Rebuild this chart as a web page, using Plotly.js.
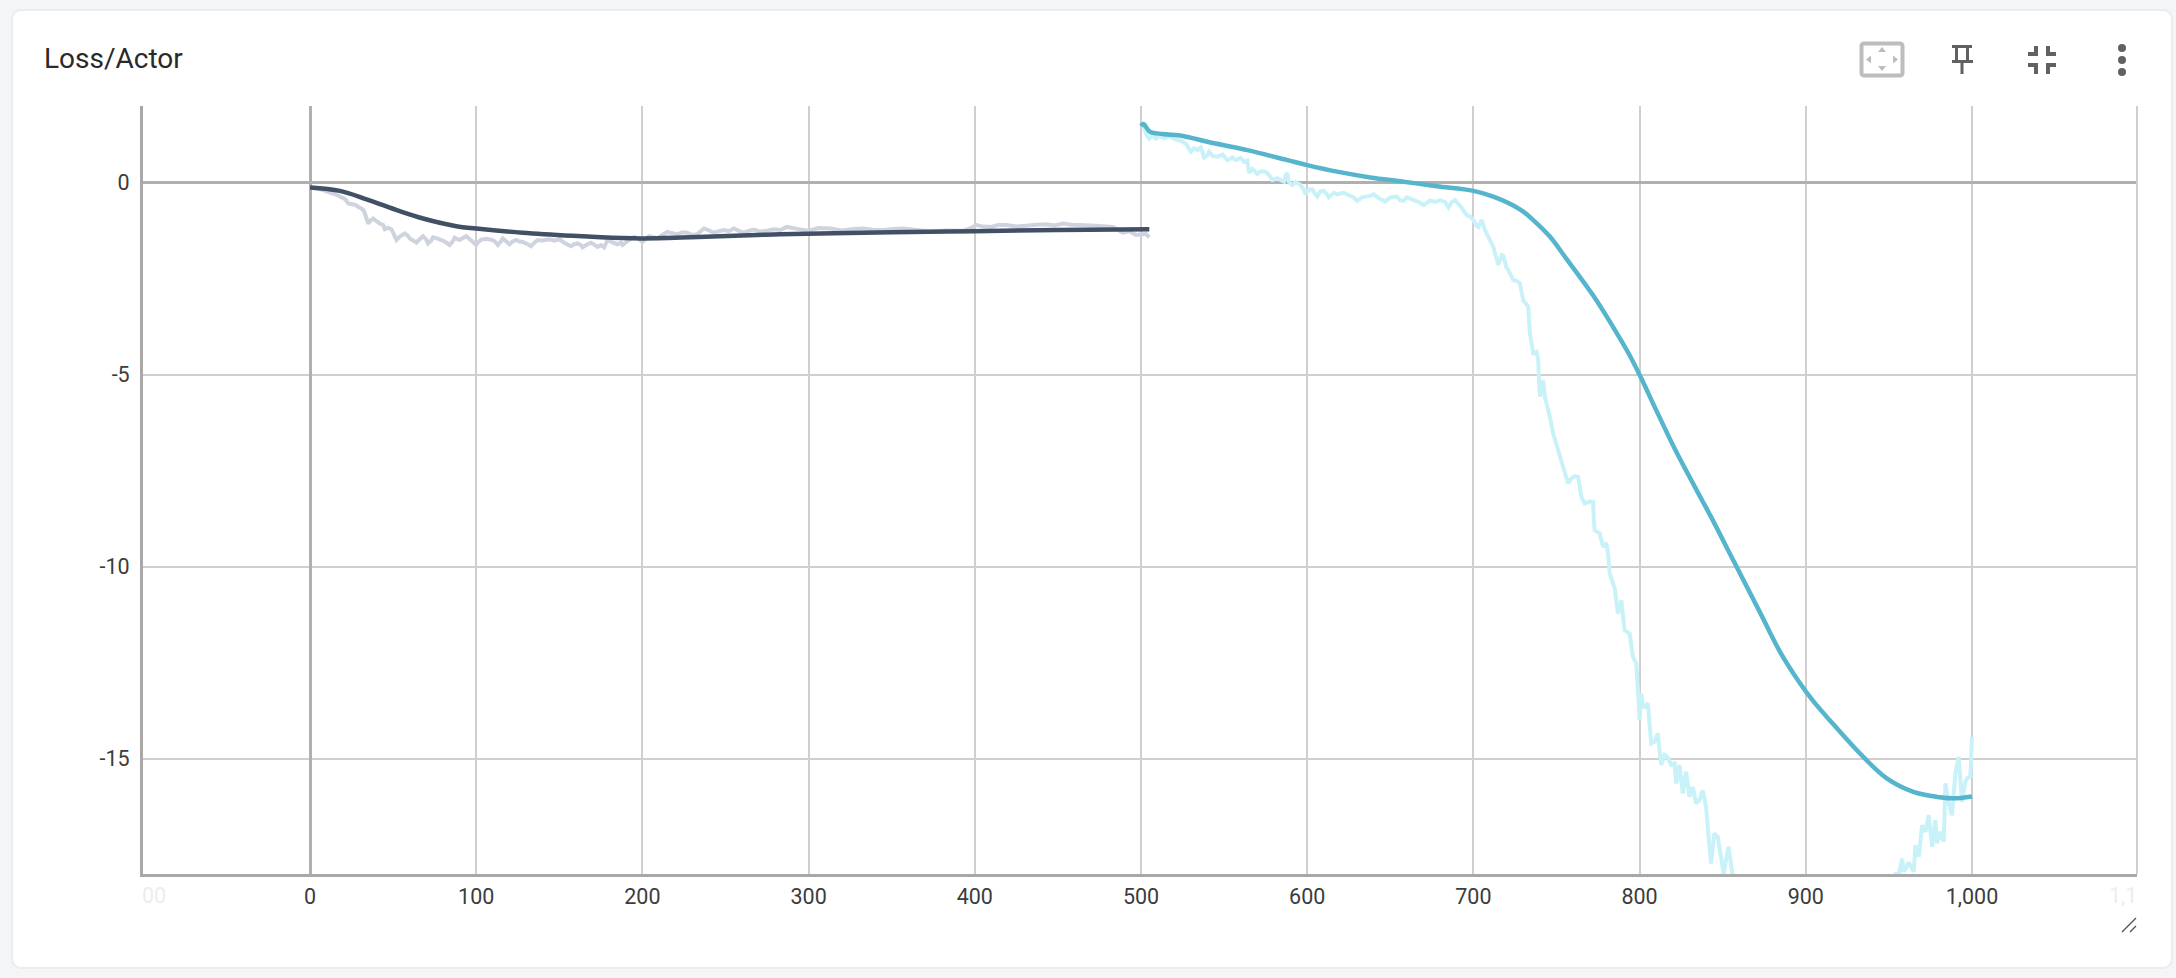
<!DOCTYPE html>
<html>
<head>
<meta charset="utf-8">
<script src="https://cdn.plot.ly/plotly-3.0.1.min.js"></script>
<style>
html,body{margin:0;padding:0;width:2176px;height:978px;overflow:hidden;background:#f4f5f7;font-family:Roboto,sans-serif}
#card{position:absolute;left:11px;top:9px;width:2158px;height:956px;background:#fff;border:2px solid #ececee;border-radius:10px;box-sizing:content-box}
#chart{position:absolute;left:0;top:0;width:2176px;height:978px}
#icons{position:absolute;left:0;top:0;pointer-events:none}
</style>
</head>
<body>
<div id="card"></div>
<div id="chart"></div>
<svg id="icons" width="2176" height="978">
  <rect x="1861.500" y="43.500" width="41" height="32" rx="2.500" fill="none" stroke="#bdbdbd" stroke-width="4"/>
  <path d="M1882 47l4 5h-8zM1882 71l4-5h-8zM1866 59.500l5-4v8zM1898 59.500l-5-4v8z" fill="#bdbdbd"/>
  <path d="M1952 46.500h20M1956.500 47v14M1967.500 47v14M1952 61.500h21M1962 62v12" stroke="#616161" stroke-width="3" fill="none"/>
  <path d="M2034 46h4v10h-10v-4h6zM2046 46h4v6h6v4h-10zM2028 63h10v11h-4v-7h-6zM2046 63h10v4h-6v7h-4z" fill="#616161"/>
  <circle cx="2122" cy="48" r="4" fill="#616161"/><circle cx="2122" cy="60" r="4" fill="#616161"/><circle cx="2122" cy="72" r="4" fill="#616161"/>
  <path d="M2122 932l14-14M2130 932l6-6" stroke="#555" stroke-width="1.400" fill="none"/>
</svg>
<script>
const title = "Loss/Actor";
const xTicks = [-100,0,100,200,300,400,500,600,700,800,900,1000,1100];
const xLabels = ["","0","100","200","300","400","500","600","700","800","900","1,000",""];
const yTicks = [0,-5,-10,-15];
const yLabels = ["0","-5","-10","-15"];

const darkRawX = [0,4,8,11,14,17,19,21,23,27,30,32,33,35,36,38,40,42,44,45,47,49,50,52,54,57,59,60,62,64,66,68,70,71,73,74,76,79,81,84,86,87,89,90,92,94,97,100,101,103,106,110,112,113,115,116,118,120,122,124,126,128,131,133,135,137,140,144,147,150,153,157,159,161,163,164,167,169,171,173,175,177,179,182,185,187,188,191,195,198,200,202,204,207,209,212,215,218,221,224,227,230,233,235,237,240,243,246,249,252,255,258,261,264,267,271,275,279,283,287,293,300,306,313,320,327,333,339,345,351,357,365,373,383,393,397,401,405,410,414,419,425,431,437,443,448,453,458,463,473,483,489,493,497,503,505];
const darkRawY = [-0.12,-0.15,-0.19,-0.24,-0.28,-0.33,-0.38,-0.42,-0.54,-0.57,-0.65,-0.70,-0.80,-1.06,-1.00,-0.93,-1.00,-1.06,-1.10,-1.21,-1.17,-1.21,-1.30,-1.49,-1.40,-1.32,-1.38,-1.45,-1.50,-1.56,-1.47,-1.39,-1.48,-1.58,-1.50,-1.42,-1.44,-1.49,-1.53,-1.62,-1.52,-1.43,-1.47,-1.49,-1.44,-1.39,-1.50,-1.62,-1.55,-1.48,-1.46,-1.49,-1.56,-1.62,-1.52,-1.45,-1.52,-1.60,-1.53,-1.49,-1.53,-1.54,-1.60,-1.65,-1.56,-1.49,-1.50,-1.47,-1.51,-1.47,-1.56,-1.65,-1.60,-1.58,-1.62,-1.68,-1.60,-1.56,-1.61,-1.67,-1.62,-1.68,-1.49,-1.55,-1.60,-1.56,-1.62,-1.52,-1.41,-1.47,-1.54,-1.46,-1.39,-1.42,-1.45,-1.36,-1.28,-1.31,-1.34,-1.29,-1.30,-1.36,-1.34,-1.26,-1.19,-1.24,-1.30,-1.26,-1.23,-1.26,-1.19,-1.25,-1.30,-1.25,-1.22,-1.27,-1.25,-1.21,-1.23,-1.15,-1.20,-1.25,-1.18,-1.19,-1.24,-1.20,-1.19,-1.23,-1.23,-1.20,-1.19,-1.23,-1.27,-1.24,-1.25,-1.19,-1.10,-1.14,-1.15,-1.10,-1.10,-1.14,-1.12,-1.09,-1.08,-1.11,-1.06,-1.09,-1.10,-1.12,-1.15,-1.30,-1.26,-1.36,-1.33,-1.42];

const darkSmoothX = [0,18,34,54,68,88,100,128,158,188,200,229,283,350,400,450,505];
const darkSmoothY = [-0.12,-0.21,-0.43,-0.74,-0.93,-1.13,-1.19,-1.30,-1.38,-1.44,-1.45,-1.42,-1.34,-1.29,-1.26,-1.23,-1.21];

const tealRawX = [501,502,503,504,505,507,509,511,514,517,520,524,527,530,532,534,536,538,540,541,543,546,549,552,555,557,560,562,564,565,567,570,572,575,577,579,582,586,587,588,589,591,593,596,598,599,601,603,605,606,608,610,612,613,616,618,622,625,628,630,633,635,638,640,643,647,650,654,656,658,660,663,667,670,674,677,680,683,685,687,689,692,696,698,700,702,703,705,707,710,712,715,717,718,720,721,724,726,728,730,733,734,736,738,739,739.500,740,742,743,746,748,751,754,757,759,761,763,765,767,770,772,772.500,773,776,778,780,781,782,785,787,789,791,794,796,798,799,800,801,802,803,805,807,809,811,812,813,815,817,819,821,822,824,826,828,830,832,834,836,838,840,841,843,845,847,849,850.500,853.500,856,870,900,930,948,954,956,958,959,962,965,966,968,970,972,974,976,978,979,981,983,984,986,988,990,992,994,996,997,999,1000];
const tealRawY = [1.56,1.42,1.28,1.20,1.15,1.24,1.15,1.22,1.16,1.22,1.14,1.09,1.02,0.81,0.90,0.85,0.92,0.66,0.72,0.81,0.70,0.68,0.74,0.59,0.66,0.59,0.65,0.55,0.58,0.26,0.36,0.23,0.30,0.29,0.20,0.07,0.12,0.03,0.20,0.26,0.02,-0.06,0.02,-0.06,-0.18,-0.30,-0.18,-0.17,-0.30,-0.36,-0.22,-0.21,-0.30,-0.38,-0.26,-0.30,-0.26,-0.32,-0.38,-0.47,-0.38,-0.36,-0.34,-0.30,-0.40,-0.49,-0.38,-0.36,-0.46,-0.47,-0.38,-0.43,-0.50,-0.58,-0.46,-0.50,-0.45,-0.50,-0.64,-0.50,-0.45,-0.60,-0.84,-0.88,-0.97,-1.12,-1.15,-0.97,-1.24,-1.49,-1.67,-2.14,-1.88,-1.90,-2.22,-2.27,-2.53,-2.55,-2.62,-3.06,-3.23,-3.92,-4.44,-4.40,-4.62,-5.14,-5.57,-5.15,-5.57,-6.09,-6.53,-6.96,-7.40,-7.83,-7.70,-7.64,-7.66,-8.18,-8.35,-8.30,-8.31,-8.78,-9.05,-9.13,-9.48,-9.38,-9.65,-10.17,-10.56,-11.22,-10.87,-11.65,-11.74,-12.34,-12.52,-13.21,-13.99,-13.30,-13.62,-13.65,-13.56,-14.60,-14.55,-14.34,-14.80,-15.16,-14.90,-14.96,-15.16,-15.12,-15.64,-15.16,-15.90,-15.34,-15.99,-15.73,-16.16,-16.08,-15.82,-16.25,-16.77,-17.73,-16.94,-17.03,-17.55,-17.99,-17.29,-18.03,-18.60,-19.50,-19.50,-18.60,-18.00,-18.02,-17.60,-17.94,-17.70,-17.94,-17.25,-17.55,-16.73,-16.90,-16.47,-17.29,-16.60,-17.20,-16.90,-17.16,-15.64,-16.15,-16.47,-15.38,-14.95,-16.12,-15.60,-15.51,-15.47,-14.43];

const tealSmoothX = [500,501.400,505.400,513,525,540,564,588,600,618,638,658,678,700,712,728,736,746,756,772,784,794,800,810,822,837.500,843,856.600,872.600,884.600,896,904.500,916.600,934.600,948.700,964.700,980.700,988.800,1000];
const tealSmoothY = [1.48,1.53,1.33,1.27,1.22,1.07,0.85,0.59,0.46,0.29,0.14,0.03,-0.09,-0.21,-0.36,-0.69,-0.97,-1.40,-1.98,-2.93,-3.75,-4.49,-5,-5.92,-7.00,-8.26,-8.70,-9.85,-11.20,-12.22,-13.00,-13.50,-14.10,-14.95,-15.51,-15.86,-16.00,-16.03,-15.98];

const line = (x,y,color,width,shape)=>({x,y,type:'scatter',mode:'lines',hoverinfo:'skip',showlegend:false,line:{color,width,shape:shape||'linear',simplify:false}});
const data = [
  line(darkRawX,darkRawY,'#cfd3df',4),
  line(tealRawX,tealRawY,'#c9f2f8',4),
  line(darkSmoothX,darkSmoothY,'#425066',4.5,'spline'),
  line(tealSmoothX,tealSmoothY,'#55b5cd',4.5,'spline')
];
const tickFont = {family:'Roboto, sans-serif',size:21.500,color:'#3c3c3c'};
const layout = {
  width:2176,height:978,autosize:false,
  paper_bgcolor:'rgba(0,0,0,0)',plot_bgcolor:'rgba(0,0,0,0)',
  margin:{l:143,r:39,t:106,b:103.500,pad:0},
  title:{text:title,x:44/2176,xanchor:'left',y:1-58/978,yanchor:'middle',font:{family:'Roboto, sans-serif',size:28,color:'#2a2a2a'}},
  xaxis:{range:[-100.5,1099.3],tickmode:'array',tickvals:xTicks,ticktext:xLabels,tickfont:tickFont,
    showgrid:true,gridcolor:'#cfcfcf',gridwidth:2,zeroline:true,zerolinecolor:'#b0b0b0',zerolinewidth:3,
    showline:true,linecolor:'#a8a8a8',linewidth:3,ticks:'outside',ticklen:1,tickcolor:'rgba(0,0,0,0)'},
  yaxis:{range:[-18,2],tickmode:'array',tickvals:yTicks,ticktext:yLabels,tickfont:tickFont,
    showgrid:true,gridcolor:'#cfcfcf',gridwidth:2,zeroline:true,zerolinecolor:'#b0b0b0',zerolinewidth:3,
    showline:true,linecolor:'#a8a8a8',linewidth:3,ticks:'outside',ticklen:6,tickcolor:'rgba(0,0,0,0)'},
  shapes:[{type:'line',xref:'paper',yref:'paper',x0:1,x1:1,y0:0,y1:1,line:{color:'#cfcfcf',width:2}}],
  annotations:[
    {xref:'paper',yref:'paper',x:0,y:0,xanchor:'left',yanchor:'top',yshift:-7,xshift:-3,text:'00',showarrow:false,font:{family:'Roboto, sans-serif',size:21.500,color:'#ededed'}},
    {xref:'paper',yref:'paper',x:1,y:0,xanchor:'right',yanchor:'top',yshift:-7,xshift:2,text:'1,1',showarrow:false,font:{family:'Roboto, sans-serif',size:21.500,color:'#ededed'}}
  ]
};
Plotly.newPlot('chart',data,layout,{displayModeBar:false,staticPlot:true});
</script>
</body>
</html>
